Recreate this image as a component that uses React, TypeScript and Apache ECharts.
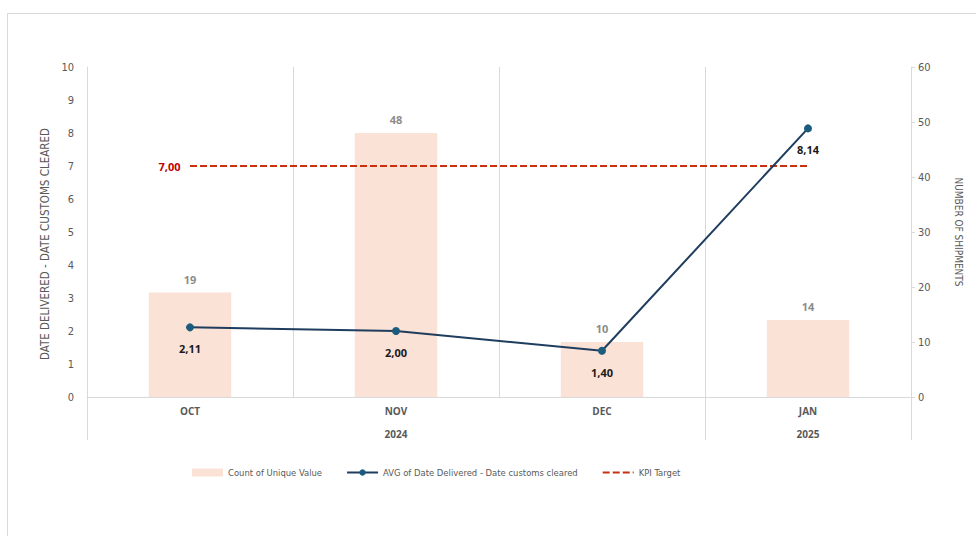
import React, { useEffect, useRef } from "react";
import * as echarts from "echarts";

const months = ["OCT", "NOV", "DEC", "JAN"];
const yearLabels = ["", "2024", "", "2025"];
const yearGroupStarts = [0, 3];
const shipmentCounts = [19, 48, 10, 14];
const avgDays = [2.11, 2.0, 1.4, 8.14];
const kpiTarget = [7, 7, 7, 7];
const leftAxisMax = 10;
const rightAxisMax = 60;

const FONT = "'DejaVu Sans Condensed', 'Liberation Sans', sans-serif";
const BOLD_FONT = "'Open Sans', 'Liberation Sans', sans-serif";
const GRID = "#d9d9d9";
const TXT = "#595959";
const fmt = (v: number) => v.toFixed(2).replace(".", ",");

export default function App() {
  const ref = useRef<HTMLDivElement>(null);
  useEffect(() => {
    if (!ref.current) return;
    const chart = echarts.init(ref.current, undefined, { renderer: "svg" });
    const option: any = {
      animation: false,
      backgroundColor: "#ffffff",
      textStyle: { fontFamily: FONT },
      grid: { left: 87, right: 65, top: 67, bottom: 139, containLabel: false },
      legend: {
        top: 468,
        left: 192,
        padding: 0,
        itemWidth: 31,
        itemHeight: 8,
        itemGap: 24,
        textStyle: { color: TXT, fontSize: 9.4, fontFamily: FONT },
        data: [
          { name: "Count of Unique Value", icon: "rect" },
          { name: "AVG of Date Delivered - Date customs cleared" },
          { name: "KPI Target", itemStyle: { opacity: 0 } },
        ],
      },
      xAxis: [
        {
          type: "category",
          data: months,
          boundaryGap: true,
          axisLine: { show: true, lineStyle: { color: GRID } },
          axisTick: { show: false },
          splitLine: { show: true, lineStyle: { color: GRID, width: 1 } },
          axisLabel: { color: TXT, fontSize: 10, fontWeight: "bold", fontFamily: BOLD_FONT, margin: 9 },
        },
        {
          type: "category",
          data: yearLabels,
          position: "bottom",
          offset: 23,
          boundaryGap: true,
          axisLine: { show: false },
          axisTick: { show: false },
          splitLine: { show: false },
          axisLabel: { color: TXT, fontSize: 10, fontWeight: "bold", fontFamily: BOLD_FONT, margin: 9, interval: 0 },
        },
      ],
      yAxis: [
        {
          type: "value",
          min: 0,
          max: leftAxisMax,
          interval: 1,
          position: "left",
          name: "DATE DELIVERED - DATE CUSTOMS CLEARED",
          nameLocation: "middle",
          nameGap: 36,
          nameTextStyle: { color: TXT, fontSize: 11.5, fontFamily: FONT, padding: [0, 24, 0, 0] },
          axisLine: { show: true, lineStyle: { color: GRID } },
          axisTick: { show: false },
          splitLine: { show: false },
          axisLabel: { color: TXT, fontSize: 11, margin: 13 },
        },
        {
          type: "value",
          min: 0,
          max: rightAxisMax,
          interval: 10,
          position: "right",
          name: "NUMBER OF SHIPMENTS",
          nameLocation: "middle",
          nameGap: 42,
          nameRotate: -90,
          nameTextStyle: { color: TXT, fontSize: 10, fontFamily: FONT },
          axisLine: { show: true, lineStyle: { color: GRID } },
          axisTick: { show: true, length: 4, lineStyle: { color: GRID } },
          splitLine: { show: false },
          axisLabel: { color: TXT, fontSize: 11, margin: 7 },
        },
      ],
      series: [
        {
          name: "Count of Unique Value",
          type: "bar",
          xAxisIndex: 0,
          yAxisIndex: 1,
          data: shipmentCounts,
          barWidth: "40%",
          itemStyle: { color: "#fbe2d6" },
          label: {
            show: true,
            position: "top",
            distance: 8,
            color: "#8c8c8c",
            fontWeight: "bold",
            fontSize: 11,
            fontFamily: BOLD_FONT,
          },
          z: 1,
        },
        {
          name: "KPI Target",
          type: "line",
          xAxisIndex: 0,
          yAxisIndex: 0,
          data: kpiTarget,
          symbol: "circle",
          symbolSize: 1,
          showAllSymbol: true,
          lineStyle: { color: "#c8300e", width: 2, type: [7, 3] },
          itemStyle: { color: "rgba(0,0,0,0)" },
          label: {
            show: true,
            position: "left",
            distance: 9,
            color: "#c00000",
            fontWeight: "bold",
            fontSize: 11,
            fontFamily: BOLD_FONT,
            formatter: (p: any) => (p.dataIndex === 0 ? fmt(p.value) : ""),
          },
          z: 3,
        },
        {
          name: "AVG of Date Delivered - Date customs cleared",
          type: "line",
          xAxisIndex: 0,
          yAxisIndex: 0,
          data: avgDays,
          symbol: "circle",
          symbolSize: 8,
          lineStyle: { color: "#1f3d5e", width: 2 },
          itemStyle: { color: "#1b5b7e" },
          label: {
            show: true,
            position: "bottom",
            distance: 12,
            color: "#1a1a1a",
            fontWeight: "bold",
            fontSize: 11,
            fontFamily: BOLD_FONT,
            formatter: (p: any) => fmt(p.value),
          },
          z: 4,
        },
      ],
    };
    chart.setOption(option);

    const c0 = chart.convertToPixel({ xAxisIndex: 0 }, months[0]) as number;
    const c1 = chart.convertToPixel({ xAxisIndex: 0 }, months[1]) as number;
    const band = c1 - c0;
    const yZero = chart.convertToPixel({ yAxisIndex: 0 }, 0) as number;
    const yTop = chart.convertToPixel({ yAxisIndex: 0 }, leftAxisMax) as number;
    const xs = yearGroupStarts.map((i) => c0 - band / 2 + i * band);
    xs.push(c0 - band / 2 + months.length * band);
    const graphics: any[] = [
      {
        type: "rect",
        shape: { x: 7.5, y: 13.5, width: 1000, height: 600 },
        style: { fill: "none", stroke: GRID, lineWidth: 1 },
        silent: true,
        z: -10,
      },
    ];
    xs.forEach((x) => {
      graphics.push({
        type: "line",
        shape: { x1: Math.round(x) + 0.5, y1: yTop, x2: Math.round(x) + 0.5, y2: yZero + 43 },
        style: { stroke: GRID, lineWidth: 1 },
        silent: true,
      });
    });
    chart.setOption({ graphic: graphics });

    return () => chart.dispose();
  }, []);
  return <div ref={ref} style={{ position: "fixed", left: 0, top: 0, width: 976, height: 536 }} />;
}
